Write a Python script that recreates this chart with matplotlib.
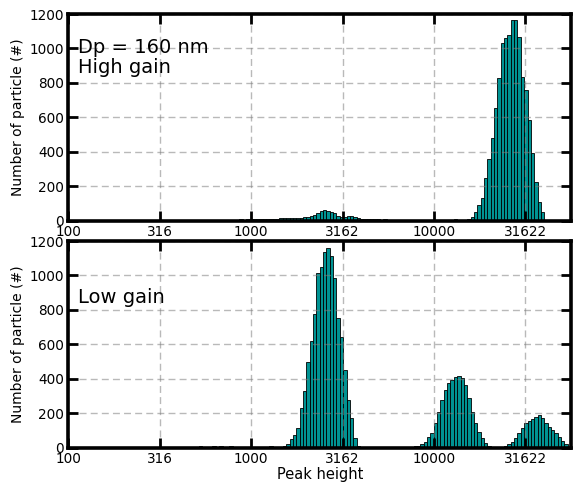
import numpy as np
import matplotlib.pyplot as plt
from matplotlib.ticker import NullLocator

# log-spaced bins, 150 bins from 100 to 10^4.75
bin_edges = np.logspace(2, 4.75, 151)

# counts per bin, high gain channel (top panel)
high_gain_counts = [
    0, 0, 0, 0, 0, 0, 0, 0, 0, 0,
    0, 0, 0, 0, 0, 0, 0, 0, 0, 0,
    0, 0, 0, 0, 0, 0, 0, 0, 0, 0,
    0, 0, 0, 0, 0, 0, 0, 0, 0, 0,
    2, 0, 3, 2, 4, 3, 5, 3, 4, 6,
    5, 7, 6, 8, 7, 9, 8, 10, 9, 11,
    10, 12, 11, 13, 14, 15, 14, 16, 17, 18,
    20, 22, 26, 32, 45, 55, 62, 56, 50, 42,
    30, 24, 22, 28, 25, 20, 16, 12, 10, 9,
    8, 7, 8, 6, 7, 5, 6, 5, 4, 5,
    4, 3, 4, 3, 3, 2, 3, 2, 3, 2,
    2, 3, 2, 4, 6, 10, 5, 3, 4, 8,
    20, 52, 91, 130, 246, 356, 478, 652, 826, 1029,
    1058, 1077, 1164, 1164, 1067, 835, 758, 584, 391, 226,
    110, 52, 0, 0, 0, 0, 0, 0, 0, 0,
]

# counts per bin, low gain channel (bottom panel)
low_gain_counts = [
    0, 0, 0, 0, 0, 0, 0, 0, 0, 0,
    0, 0, 0, 0, 0, 0, 0, 0, 0, 0,
    0, 0, 0, 0, 0, 0, 0, 0, 0, 0,
    0, 0, 0, 0, 0, 0, 0, 0, 0, 6,
    0, 2, 0, 8, 3, 7, 2, 3, 6, 2,
    3, 2, 5, 2, 0, 2, 3, 0, 2, 3,
    6, 2, 3, 5, 10, 22, 49, 73, 112, 231,
    328, 499, 619, 776, 1013, 1051, 1138, 1158, 1115, 984,
    751, 644, 451, 276, 170, 57, 8, 3, 0, 0,
    0, 0, 2, 0, 0, 0, 0, 2, 0, 0,
    0, 3, 5, 8, 10, 18, 30, 63, 82, 140,
    208, 276, 334, 373, 392, 412, 418, 402, 363, 286,
    208, 140, 92, 53, 24, 8, 3, 2, 3, 5,
    9, 20, 34, 53, 82, 112, 144, 156, 164, 179,
    189, 170, 144, 121, 102, 82, 59, 40, 20, 5,
]

x_ticks = [100, 316, 1000, 3162, 10000, 31622]
x_tick_labels = ["100", "316", "1000", "3162", "10000", "31622"]
y_ticks = [0, 200, 400, 600, 800, 1000, 1200]

fig = plt.figure(figsize=(5.74, 4.9), dpi=100)
ax_top = fig.add_axes([0.119, 0.5496, 0.876, 0.4218])
ax_bot = fig.add_axes([0.119, 0.0867, 0.876, 0.4213])

widths = np.diff(bin_edges)

for ax, counts in [(ax_top, high_gain_counts), (ax_bot, low_gain_counts)]:
    ax.bar(bin_edges[:-1], counts, width=widths, align="edge",
           color="#009393", edgecolor="black", linewidth=0.6)
    ax.set_xscale("log")
    ax.set_xlim(bin_edges[0], bin_edges[-1])
    ax.set_ylim(0, 1200)
    ax.set_xticks(x_ticks)
    ax.set_xticklabels(x_tick_labels)
    ax.xaxis.set_minor_locator(NullLocator())
    ax.set_yticks(y_ticks)
    ax.tick_params(which="both", direction="in", top=True, right=True,
                   length=7, width=2, labelsize=9.8, pad=3)
    for sp in ax.spines.values():
        sp.set_linewidth(2.6)
    ax.grid(True, color="gray", alpha=0.55, linestyle=(0, (5, 3)), linewidth=1.0)
    ax.set_ylabel("Number of particle (#)", fontsize=10, labelpad=3)

ax_top.text(0.02, 0.885, "Dp = 160 nm\nHigh gain", transform=ax_top.transAxes,
            fontsize=14, va="top", ha="left", linespacing=1.05)
ax_bot.text(0.02, 0.775, "Low gain", transform=ax_bot.transAxes,
            fontsize=14, va="top", ha="left")
ax_bot.set_xlabel("Peak height", fontsize=10.5, labelpad=1)

fig.savefig("out.png", dpi=100)
